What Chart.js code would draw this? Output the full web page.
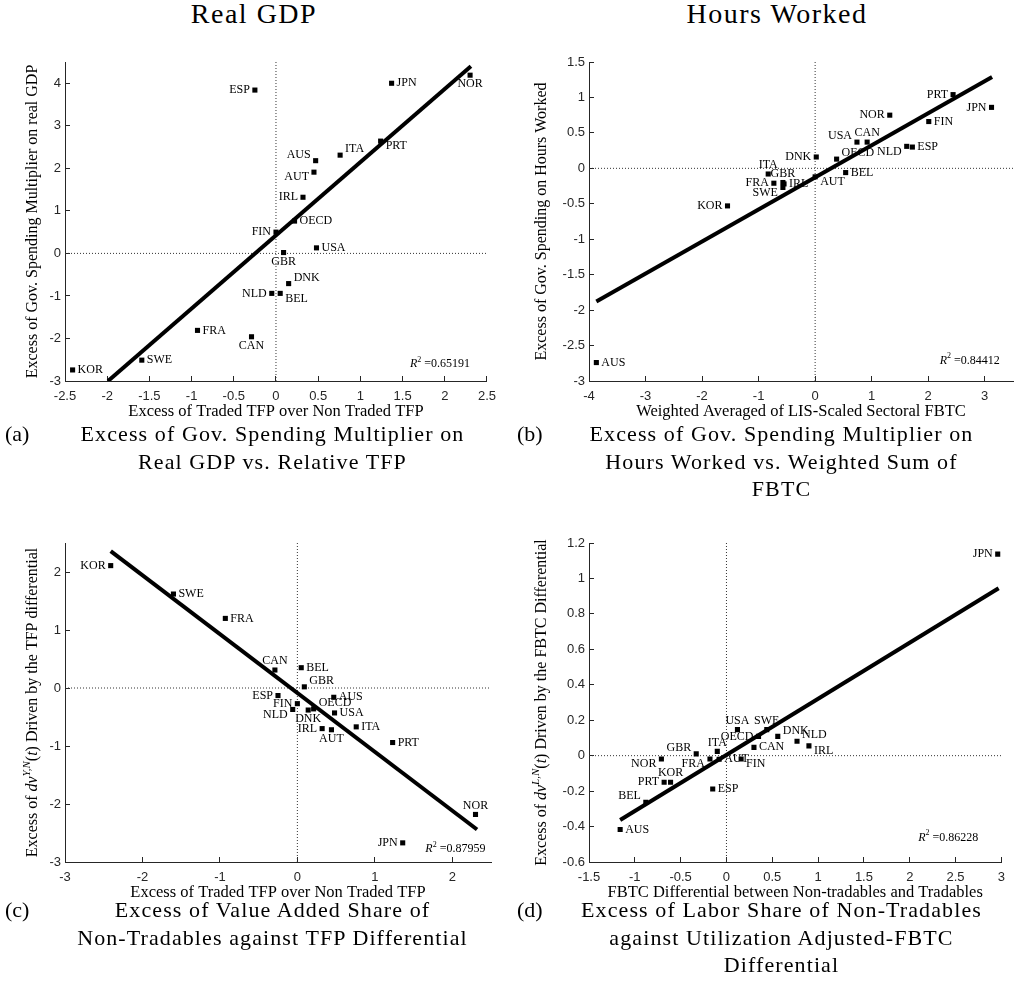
<!DOCTYPE html>
<html>
<head>
<meta charset="utf-8">
<script src="https://cdn.jsdelivr.net/npm/chart.js@4.4.0/dist/chart.umd.min.js"></script>
<style>
body { margin: 0; background: #fff; width: 1018px; height: 991px; position: relative; overflow: hidden; font-family: "Liberation Serif", serif; color: #000; }
canvas { position: absolute; }
.head { position: absolute; top: -2px; font-size: 28px; line-height: 32px; letter-spacing: 1.5px; text-align: center; width: 300px; }
.cap { position: absolute; width: 509px; font-size: 22px; line-height: 27.5px; }
.cap .tag { position: absolute; top: 0; }
.cap .txt { position: absolute; left: 40px; right: 4px; text-align: center; letter-spacing: 1.1px; }
</style>
</head>
<body>
<div class="head" style="left:104px">Real GDP</div>
<div class="head" style="left:627px">Hours Worked</div>

<canvas id="chartA" width="509" height="383" style="left:0;top:40px"></canvas>
<canvas id="chartB" width="509" height="383" style="left:509px;top:40px"></canvas>
<canvas id="chartC" width="509" height="383" style="left:0;top:521px"></canvas>
<canvas id="chartD" width="509" height="383" style="left:509px;top:521px"></canvas>

<div class="cap" style="left:0;top:420px"><span class="tag" style="left:5px">(a)</span><div class="txt">Excess of Gov. Spending Multiplier on<br>Real GDP vs. Relative TFP</div></div>
<div class="cap" style="left:509px;top:420px"><span class="tag" style="left:8px">(b)</span><div class="txt">Excess of Gov. Spending Multiplier on<br>Hours Worked vs. Weighted Sum of<br>FBTC</div></div>
<div class="cap" style="left:0;top:896px"><span class="tag" style="left:5px">(c)</span><div class="txt">Excess of Value Added Share of<br>Non-Tradables against TFP Differential</div></div>
<div class="cap" style="left:509px;top:896px"><span class="tag" style="left:8px">(d)</span><div class="txt">Excess of Labor Share of Non-Tradables<br>against Utilization Adjusted-FBTC<br>Differential</div></div>

<script>
// (a) gov. spending multiplier on real GDP vs relative TFP
const gdpCountries = ["KOR", "SWE", "FRA", "CAN", "ESP", "NLD", "BEL", "DNK", "GBR", "FIN", "OECD", "USA", "IRL", "AUT", "AUS", "ITA", "PRT", "JPN", "NOR"];
const gdpTfp = [-2.41, -1.59, -0.93, -0.29, -0.25, -0.05, 0.05, 0.15, 0.09, 0.00, 0.22, 0.48, 0.32, 0.45, 0.47, 0.76, 1.24, 1.37, 2.30];
const gdpMult = [-2.74, -2.51, -1.81, -1.96, 3.84, -0.94, -0.94, -0.71, 0.02, 0.50, 0.76, 0.13, 1.32, 1.91, 2.18, 2.31, 2.64, 4.00, 4.19];
const gdpFitX = [-1.99, 2.31];
const gdpFitY = [-3.0, 4.40];
const gdpXRange = [-2.5, 2.5];
const gdpYRange = [-3, 4.5];
const gdpXTicks = [-2.5, -2, -1.5, -1, -0.5, 0, 0.5, 1, 1.5, 2, 2.5];
const gdpYTicks = [-3, -2, -1, 0, 1, 2, 3, 4];
const gdpR2 = "0.65191";

// (b) gov. spending multiplier on hours worked vs weighted FBTC
const hoursCountries = ["AUS", "KOR", "ITA", "FRA", "GBR", "IRL", "SWE", "AUT", "DNK", "OECD", "BEL", "USA", "CAN", "NOR", "NLD", "ESP", "FIN", "PRT", "JPN"];
const hoursFbtc = [-3.87, -1.55, -0.83, -0.73, -0.57, -0.55, -0.57, 0.00, 0.02, 0.38, 0.54, 0.74, 0.92, 1.32, 1.62, 1.72, 2.01, 2.44, 3.12];
const hoursMult = [-2.74, -0.53, -0.08, -0.21, -0.20, -0.22, -0.27, -0.12, 0.16, 0.13, -0.06, 0.37, 0.37, 0.75, 0.31, 0.30, 0.66, 1.04, 0.86];
const hoursFitX = [-3.87, 3.13];
const hoursFitY = [-1.88, 1.29];
const hoursXRange = [-4, 3.5];
const hoursYRange = [-3, 1.5];
const hoursXTicks = [-4, -3, -2, -1, 0, 1, 2, 3];
const hoursYTicks = [-3, -2.5, -2, -1.5, -1, -0.5, 0, 0.5, 1, 1.5];
const hoursR2 = "0.84412";

// (c) value added share of non-tradables vs TFP differential
const vaCountries = ["KOR", "SWE", "FRA", "CAN", "BEL", "GBR", "ESP", "AUS", "FIN", "NLD", "DNK", "OECD", "USA", "IRL", "AUT", "ITA", "PRT", "NOR", "JPN"];
const vaTfp = [-2.41, -1.60, -0.93, -0.29, 0.05, 0.09, -0.25, 0.47, 0.00, -0.06, 0.14, 0.21, 0.48, 0.32, 0.44, 0.76, 1.23, 2.30, 1.36];
const vaShare = [2.11, 1.62, 1.20, 0.31, 0.35, 0.02, -0.13, -0.16, -0.27, -0.37, -0.38, -0.36, -0.43, -0.70, -0.72, -0.67, -0.94, -2.18, -2.67];
const vaFitX = [-2.41, 2.32];
const vaFitY = [2.36, -2.44];
const vaXRange = [-3, 2.5];
const vaYRange = [-3, 2.5];
const vaXTicks = [-3, -2, -1, 0, 1, 2];
const vaYTicks = [-3, -2, -1, 0, 1, 2];
const vaR2 = "0.87959";

// (d) labor share of non-tradables vs FBTC differential
const lsCountries = ["AUS", "BEL", "PRT", "KOR", "NOR", "GBR", "FRA", "ITA", "AUT", "ESP", "FIN", "USA", "OECD", "CAN", "SWE", "DNK", "NLD", "IRL", "JPN"];
const lsFbtc = [-1.16, -0.88, -0.68, -0.61, -0.71, -0.33, -0.18, -0.10, -0.08, -0.15, 0.16, 0.12, 0.35, 0.30, 0.44, 0.56, 0.77, 0.90, 2.96];
const lsShare = [-0.417, -0.263, -0.150, -0.150, -0.019, 0.010, -0.019, 0.024, -0.020, -0.188, -0.019, 0.147, 0.109, 0.047, 0.147, 0.109, 0.081, 0.055, 1.137];
const lsFitX = [-1.16, 2.97];
const lsFitY = [-0.363, 0.945];
const lsXRange = [-1.5, 3];
const lsYRange = [-0.6, 1.2];
const lsXTicks = [-1.5, -1, -0.5, 0, 0.5, 1, 1.5, 2, 2.5, 3];
const lsYTicks = [-0.6, -0.4, -0.2, 0, 0.2, 0.4, 0.6, 0.8, 1, 1.2];
const lsR2 = "0.86228";

//LABEL PLACEMENT AROUND EACH MARKER
const placeOff = {
	r: [5, 0, "left"], l: [-5, 0, "right"], t: [0, -9, "center"], b: [0, 9, "center"],
	rt: [5, -6, "left"], rb: [5, 5, "left"], lt: [-5, -6, "right"], lb: [-5, 5, "right"]
};
const SERIF = '"Liberation Serif"';

const pts = (xs, ys) => xs.map((x, i) => ({ x: x, y: ys[i] }));
const fontOf = (s, size) => (s.it ? "italic " : "") + (s.sup ? Math.round(size * 0.7) : size) + "px " + SERIF;

//RICH TEXT (italic / superscript pieces)
function drawRich(ctx, segs, x, y, size, align) {
	let w = 0;
	segs.forEach((s) => { ctx.font = fontOf(s, size); w += ctx.measureText(s.t).width; });
	let cx = align === "right" ? x - w : align === "center" ? x - w / 2 : x;
	ctx.textAlign = "left";
	ctx.textBaseline = "middle";
	segs.forEach((s) => {
		ctx.font = fontOf(s, size);
		ctx.fillText(s.t, cx, s.sup ? y - size * 0.38 : y);
		cx += ctx.measureText(s.t).width;
	});
}

const countryTags = {
	id: "countryTags",
	beforeDatasetsDraw(chart) {
		const { ctx, chartArea: a, scales } = chart;
		const x0 = scales.x.getPixelForValue(0);
		const y0 = scales.y.getPixelForValue(0);
		ctx.save();
		ctx.strokeStyle = "#333";
		ctx.lineWidth = 1;
		ctx.setLineDash([1, 2]);
		ctx.beginPath();
		ctx.moveTo(x0, a.top); ctx.lineTo(x0, a.bottom);
		ctx.moveTo(a.left, y0); ctx.lineTo(a.right, y0);
		ctx.stroke();
		ctx.restore();
	},
	afterDatasetDraw(chart, args, o) {
		if (args.index !== 1) return;
		const ctx = chart.ctx;
		ctx.save();
		ctx.fillStyle = "#000";
		ctx.font = "12px " + SERIF;
		ctx.textBaseline = "middle";
		args.meta.data.forEach((el, i) => {
			const off = placeOff[o.place[i]];
			ctx.textAlign = off[2];
			ctx.fillText(o.names[i], el.x + off[0], el.y + off[1]);
		});
		ctx.restore();
	},
	afterDraw(chart, args, o) {
		const { ctx, chartArea: a } = chart;
		ctx.save();
		ctx.fillStyle = "#000";
		ctx.translate(33, (a.top + a.bottom) / 2);
		ctx.rotate(-Math.PI / 2);
		drawRich(ctx, o.yTitle, 0, 0, 16, "center");
		ctx.restore();
		ctx.save();
		ctx.fillStyle = "#000";
		const rx = a.left + o.r2At[0] * (a.right - a.left);
		const ry = a.bottom - o.r2At[1] * (a.bottom - a.top);
		drawRich(ctx, [{ t: "R", it: true }, { t: "2", sup: true }, { t: " =" + o.r2 }], rx, ry, 12, "right");
		ctx.restore();
	}
};

function makePanel(id, p) {
	const tickFont = { family: '"Liberation Sans"', size: 13 };
	return new Chart(document.getElementById(id), {
		type: "scatter",
		data: {
			datasets: [
				{ type: "line", data: pts(p.fitX, p.fitY), showLine: true, borderColor: "#000", borderWidth: 4, pointRadius: 0, fill: false },
				{ data: pts(p.xs, p.ys), pointStyle: "rect", pointRadius: 3.6, backgroundColor: "#000", borderWidth: 0 }
			]
		},
		options: {
			responsive: false,
			animation: false,
			events: [],
			layout: { padding: { left: 0, top: 22, right: p.padRight, bottom: 0 } },
			plugins: {
				legend: { display: false },
				tooltip: { enabled: false },
				countryTags: { names: p.names, place: p.place, yTitle: p.yTitle, r2: p.r2, r2At: p.r2At }
			},
			scales: {
				x: {
					type: "linear", position: "bottom", min: p.xRange[0], max: p.xRange[1],
					afterBuildTicks: (s) => { s.ticks = p.xTicks.map((v) => ({ value: v })); },
					afterFit: (s) => { s.height = 42; },
					grid: { drawOnChartArea: false, tickLength: -5, color: "#262626" },
					border: { color: "#262626", width: 1 },
					ticks: { padding: 13, autoSkip: false, maxRotation: 0, color: "#262626", font: tickFont, callback: (v) => String(v) },
					title: { display: true, text: p.xTitle, color: "#000", font: { family: SERIF, size: 16.5, lineHeight: 1 }, padding: { top: 0, bottom: 3 } }
				},
				y: {
					type: "linear", position: "left", min: p.yRange[0], max: p.yRange[1],
					afterBuildTicks: (s) => { s.ticks = p.yTicks.map((v) => ({ value: v })); },
					afterFit: (s) => { s.width = p.yWidth; },
					grid: { drawOnChartArea: false, tickLength: -5, color: "#262626" },
					border: { color: "#262626", width: 1 },
					ticks: { padding: 9, autoSkip: false, color: "#262626", font: tickFont, callback: (v) => String(v) }
				}
			}
		},
		plugins: [countryTags]
	});
}

const tfpTitle = "Excess of Traded TFP over Non Traded TFP";

makePanel("chartA", {
	names: gdpCountries, xs: gdpTfp, ys: gdpMult, fitX: gdpFitX, fitY: gdpFitY,
	xRange: gdpXRange, yRange: gdpYRange, xTicks: gdpXTicks, yTicks: gdpYTicks, r2: gdpR2,
	place: ["r", "r", "r", "b", "l", "l", "rb", "rt", "b", "l", "r", "r", "l", "lb", "lt", "rt", "rb", "r", "b"],
	xTitle: tfpTitle,
	yTitle: [{ t: "Excess of Gov. Spending Multiplier on real GDP" }],
	yWidth: 65, padRight: 19, r2At: [0.96, 0.053]
});

makePanel("chartB", {
	names: hoursCountries, xs: hoursFbtc, ys: hoursMult, fitX: hoursFitX, fitY: hoursFitY,
	xRange: hoursXRange, yRange: hoursYRange, xTicks: hoursXTicks, yTicks: hoursYTicks, r2: hoursR2,
	place: ["r", "l", "t", "l", "t", "r", "lb", "rb", "l", "rt", "r", "lt", "t", "l", "lb", "r", "r", "l", "l"],
	xTitle: "Weighted Averaged of LIS-Scaled Sectoral FBTC",
	yTitle: [{ t: "Excess of Gov. Spending on Hours Worked" }],
	yWidth: 80, padRight: 5, r2At: [0.969, 0.063]
});

makePanel("chartC", {
	names: vaCountries, xs: vaTfp, ys: vaShare, fitX: vaFitX, fitY: vaFitY,
	xRange: vaXRange, yRange: vaYRange, xTicks: vaXTicks, yTicks: vaYTicks, r2: vaR2,
	place: ["l", "r", "r", "t", "r", "rt", "l", "r", "l", "lb", "b", "rt", "r", "l", "b", "r", "r", "t", "l"],
	xTitle: tfpTitle,
	yTitle: [{ t: "Excess of " }, { t: "d\u03bd", it: true }, { t: "Y,N", it: true, sup: true }, { t: "(" }, { t: "t", it: true }, { t: ") Driven by the TFP differential" }],
	yWidth: 65, padRight: 18, r2At: [0.987, 0.04]
});

makePanel("chartD", {
	names: lsCountries, xs: lsFbtc, ys: lsShare, fitX: lsFitX, fitY: lsFitY,
	xRange: lsXRange, yRange: lsYRange, xTicks: lsXTicks, yTicks: lsYTicks, r2: lsR2,
	place: ["r", "lt", "l", "t", "lb", "lt", "lb", "t", "r", "r", "rb", "t", "l", "r", "t", "rt", "rt", "rb", "l"],
	xTitle: "FBTC Differential between Non-tradables and Tradables",
	yTitle: [{ t: "Excess of " }, { t: "d\u03bd", it: true }, { t: "L,N", it: true, sup: true }, { t: "(" }, { t: "t", it: true }, { t: ") Driven by the FBTC Differential" }],
	yWidth: 80, padRight: 6, r2At: [0.944, 0.077]
});
</script>
</body>
</html>
